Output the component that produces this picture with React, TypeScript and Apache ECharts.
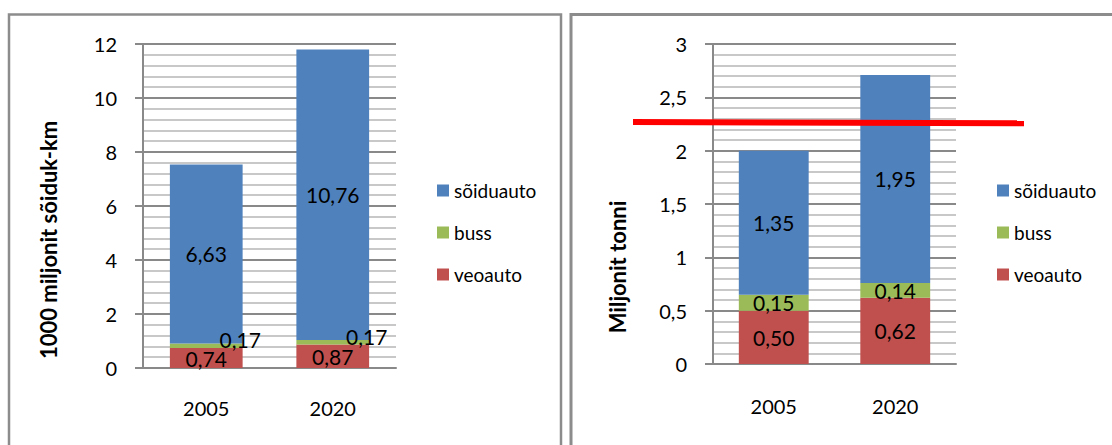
import React, { useEffect, useRef } from "react";
import * as echarts from "echarts";

const years = ["2005", "2020"];
const legendNames = ["sõiduauto", "buss", "veoauto"];

// Left chart: 1000 miljonit sõiduk-km
const kmVeoauto = [0.74, 0.87];
const kmBuss = [0.17, 0.17];
const kmSoiduauto = [6.63, 10.76];

// Right chart: Miljonit tonni
const tonVeoauto = [0.5, 0.62];
const tonBuss = [0.15, 0.14];
const tonSoiduauto = [1.35, 1.95];

const leftAxis = { min: 0, max: 12, interval: 2 };
const rightAxis = { min: 0, max: 3, interval: 0.5 };

const FONT = "Lato";
const BLUE = "#4f81bd";
const GREEN = "#9bbb59";
const RED = "#c0504d";
const GRID_DARK = "#898989";
const GRID_LIGHT = "#c8c8c8";

const fmt2 = (p: any) => Number(p.value).toFixed(2).replace(".", ",");
const fmtAxis = (v: number) => String(v).replace(".", ",");

function yAxisCfg(gridIndex: number, ax: { min: number; max: number; interval: number }) {
  return {
    type: "value",
    gridIndex,
    min: ax.min,
    max: ax.max,
    interval: ax.interval,
    axisLine: { show: true, lineStyle: { color: GRID_DARK, width: 2 } },
    axisTick: { show: true, length: 8, lineStyle: { color: GRID_DARK, width: 2 } },
    axisLabel: { formatter: fmtAxis, color: "#000", fontSize: 20, fontFamily: FONT, margin: 26 },
    splitLine: { show: true, lineStyle: { color: GRID_DARK, width: 2 } },
    minorTick: { show: false, splitNumber: 5 },
    minorSplitLine: { show: true, lineStyle: { color: GRID_LIGHT, width: 2 } },
  };
}

function xAxisCfg(gridIndex: number, margin: number) {
  return {
    type: "category",
    gridIndex,
    data: years,
    axisLine: { show: true, lineStyle: { color: GRID_DARK, width: 2 } },
    axisTick: { show: false },
    axisLabel: { color: "#000", fontSize: 20, fontFamily: FONT, margin },
    splitLine: { show: false },
  };
}

function barSeries(name: string, data: number[], stack: string, idx: number, color: string, label: any) {
  return {
    type: "bar",
    name,
    stack,
    xAxisIndex: idx,
    yAxisIndex: idx,
    data,
    barWidth: "57.5%",
    itemStyle: { color },
    label: {
      show: true,
      position: "inside",
      formatter: fmt2,
      color: "#000",
      fontSize: 21,
      fontFamily: FONT,
      ...label,
    },
  };
}

function legendCfg(left: number) {
  return {
    orient: "vertical",
    left,
    top: 181,
    padding: 0,
    data: legendNames,
    icon: "rect",
    itemWidth: 12,
    itemHeight: 12,
    itemGap: 23,
    selectedMode: false,
    textStyle: { color: "#000", fontSize: 19, fontFamily: FONT, lineHeight: 19 },
  };
}

function axisName(text: string, x: number, y: number) {
  return {
    type: "text",
    x,
    y,
    rotation: Math.PI / 2,
    style: {
      text,
      fontSize: 22,
      fontWeight: "bold",
      fontFamily: FONT,
      fill: "#000",
      textAlign: "center",
      textVerticalAlign: "middle",
    },
    z: 50,
  };
}

export default function App() {
  const ref = useRef<HTMLDivElement>(null);

  useEffect(() => {
    if (!ref.current) return;
    const chart = echarts.init(ref.current, undefined, { renderer: "svg" });
    chart.setOption({
      animation: false,
      backgroundColor: "#ffffff",
      grid: [
        { left: 143, top: 44, width: 253, height: 324 },
        { left: 713, top: 44, width: 243, height: 320 },
      ],
      xAxis: [xAxisCfg(0, 30), xAxisCfg(1, 32)],
      yAxis: [yAxisCfg(0, leftAxis), yAxisCfg(1, rightAxis)],
      legend: [legendCfg(437), legendCfg(997)],
      series: [
        barSeries("veoauto", kmVeoauto, "km", 0, RED, {}),
        barSeries("buss", kmBuss, "km", 0, GREEN, { offset: [34, -6] }),
        barSeries("sõiduauto", kmSoiduauto, "km", 0, BLUE, {}),
        barSeries("veoauto", tonVeoauto, "t", 1, RED, {}),
        barSeries("buss", tonBuss, "t", 1, GREEN, {}),
        barSeries("sõiduauto", tonSoiduauto, "t", 1, BLUE, {}),
      ],
      graphic: [
        {
          type: "rect",
          shape: { x: 9, y: 14.5, width: 552, height: 445 },
          style: { fill: "none", stroke: "#8c8c8c", lineWidth: 2.5 },
          z: 50,
        },
        {
          type: "rect",
          shape: { x: 571, y: 14.5, width: 560, height: 445 },
          style: { fill: "none", stroke: "#8c8c8c", lineWidth: 3 },
          z: 50,
        },
        axisName("1000 miljonit sõiduk-km", 48, 240),
        axisName("Miljonit tonni", 617, 267),
        {
          type: "line",
          shape: { x1: 633, y1: 122, x2: 1024, y2: 123.3 },
          style: { stroke: "#ff0000", lineWidth: 6 },
          z: 100,
        },
      ],
    });
    return () => chart.dispose();
  }, []);

  return (
    <div
      ref={ref}
      style={{ position: "absolute", left: 0, top: 0, width: 1112, height: 445 }}
    />
  );
}
